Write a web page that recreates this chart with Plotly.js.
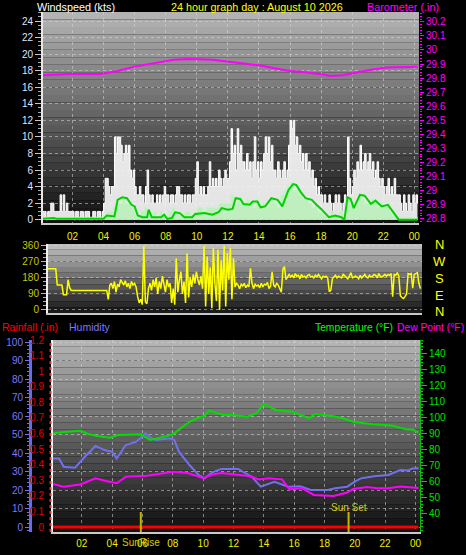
<!DOCTYPE html>
<html><head><meta charset="utf-8">
<script src="https://cdn.plot.ly/plotly-3.0.1.min.js"></script>
<style>html,body{margin:0;padding:0;background:#000;}#chart{width:466px;height:555px;}</style>
</head><body><div id="chart"></div>
<script>
// ---------- DATA ----------
const hourTicks = [2,4,6,8,10,12,14,16,18,20,22,24];
const hourLabels = ['02','04','06','08','10','12','14','16','18','20','22','00'];

// wind gust (kts), one value every 0.1 h starting at 00:00
const gust = [
 1,1,1,0,1,1,2,2,1,1,
 1,1,3,1,3,1,2,1,1,1,
 1,0,1,1,0,1,1,0,1,1,
 1,0,0,1,1,0,1,1,0,1,
 2,5,5,4,3,4,4,10,8,10,
 10,9,7,8,9,8,9,6,5,6,
 4,3,3,4,3,3,2,4,6,3,
 2,3,2,2,3,2,3,2,3,4,
 3,3,2,3,3,2,3,4,4,3,
 3,2,3,2,3,3,2,3,3,5,
 7,3,4,3,4,3,3,4,7,4,
 5,4,5,4,6,5,4,5,6,5,
 5,7,11,8,9,6,11,8,9,7,
 7,6,8,6,7,5,7,10,6,7,
 5,7,6,8,10,8,10,7,9,6,
 6,5,7,6,5,6,7,5,6,9,
 12,11,12,9,10,8,9,7,8,6,
 8,6,7,5,6,4,5,3,4,3,
 3,2,3,2,2,3,2,1,2,3,
 2,3,2,1,2,3,2,10,5,3,
 4,6,5,7,6,9,6,7,8,6,
 7,8,6,7,5,6,7,5,4,5,
 4,3,4,5,3,4,3,5,3,3,
 3,2,1,3,2,1,3,2,1,3,
 2,3,2
];
// wind speed (kts), one value every 0.2 h
const speed = [
 0.3,0.3,0.3,0.3,0.3,
 0.3,0.3,0.3,0.3,0.3,
 0.3,0.3,0.3,0.3,0.3,
 0.3,0.3,0.3,0.3,0.3,
 0.5,1,1,1.5,2,
 2,2.5,2,2,1.5,
 1,0.5,1,1.5,1,
 0.5,1,0.5,1,0.5,
 0.5,1,1.5,1,0.5,
 0.5,1,1,0.5,1,
 1.5,1.5,1,1.5,1.5,
 1.5,1.5,2,2,2,
 2,3,2,2.5,2,
 2,2.5,2,1.5,2.5,
 1.5,2,1.5,2,2.5,
 2,1.5,3,3.5,4,
 4.5,3.5,4,3,2.5,
 2.5,2,1.5,2,1,
 1,0.5,0.5,1,0.5,
 0.5,1,0.5,2.5,2,
 2,2.5,3,2.5,2,
 2,2.5,2,1.5,2,
 1.5,2,1,0.5,0.3,
 0.3,0.3,0.3,0.3,0.3,
 0.3,0.3
];
// average wind (kts)
const avgT = [0.1,0.8,1.0,4.0,4.2,4.7,4.9,5.2,5.5,5.8,6.0,6.2,6.5,6.8,6.9,7.1,7.7,7.9,8.1,8.4,8.6,8.9,9.2,9.7,9.9,10.5,11.0,11.4,11.6,12.0,12.3,12.5,12.8,13.0,13.4,13.6,13.9,14.1,14.4,14.8,15.2,15.5,15.9,16.2,16.4,16.7,17.0,17.4,17.7,18.0,18.5,18.9,19.3,19.5,19.7,19.9,20.1,20.5,20.8,21.2,21.5,21.9,22.3,22.8,23.0,24.2];
const avgV = [0.1,0.2,0.1,0.1,0.5,0.4,2.4,2.7,2.6,1.8,1.6,0.5,0.3,0.3,1.2,0.3,0.3,0.6,0.1,0.2,0.9,0.8,0.3,0.3,0.7,0.8,0.6,0.9,1.4,1.2,1.3,2.6,2.5,1.9,1.8,2.2,2.2,1.5,1.6,2.6,2.4,1.6,3.6,4.3,4.2,3.3,2.6,2.4,1.8,1.3,0.3,0.5,0.3,0.0,2.7,2.5,1.4,3.0,2.9,1.9,2.3,1.6,1.8,0.4,0.0,0.0];
// barometer (inHg)
const baroT = [0.1,1.7,3.8,4.9,5.9,7.5,8.5,9.5,11.0,12.2,13.0,14.1,15.0,16.0,16.7,17.9,18.6,19.4,20.5,21.2,22.2,23.1,24.2];
const baroV = [29.82,29.83,29.83,29.85,29.88,29.91,29.93,29.935,29.93,29.915,29.905,29.89,29.87,29.85,29.845,29.83,29.815,29.82,29.845,29.86,29.875,29.875,29.88];
const baroTicks = [28.8,28.9,29,29.1,29.2,29.3,29.4,29.5,29.6,29.7,29.8,29.9,30,30.1,30.2];
const baroLabels = ['28.8','28.9','29','29.1','29.2','29.3','29.4','29.5','29.6','29.7','29.8','29.9','30','30.1','30.2'];
// wind direction (deg), one value every 0.1 h
const dir = [
 232,232,232,232,232,232,232,140,140,140,
 140,85,85,85,170,125,110,110,110,110,
 110,110,110,110,110,110,110,110,110,110,
 110,110,110,110,110,110,110,110,110,110,
 60,140,150,120,160,100,145,130,170,150,
 140,165,130,150,120,160,140,150,130,75,
 40,60,30,360,45,35,120,150,110,170,
 130,180,90,160,120,190,140,100,170,130,
 150,40,120,30,290,100,170,215,90,160,
 40,318,70,185,130,200,150,215,170,140,
 190,120,360,20,300,90,240,10,350,150,
 50,340,0,280,110,360,20,320,170,350,
 60,290,130,150,140,120,145,135,150,125,
 140,130,234,150,120,145,135,140,125,150,
 130,145,140,155,120,135,215,140,130,150,
 140,120,100,230,244,170,190,200,185,195,
 180,205,190,195,175,200,185,190,180,195,
 200,185,190,180,195,185,200,190,175,190,
 185,190,180,103,110,175,185,195,180,190,
 185,180,200,190,185,175,190,210,180,185,
 190,185,175,195,180,190,200,185,180,195,
 185,190,200,195,180,205,190,185,195,200,
 190,200,195,205,75,200,195,210,190,80,
 70,65,75,90,205,200,205,122,200,205,
 210,150,120
];
const dirTicks = [0,90,180,270,360];
const compass = ['N','W','S','E','N'];
// temperature (F)
const tempT = [0.1,0.8,1.9,2.5,3.0,3.85,4.4,5.5,5.9,6.5,7.0,7.6,8.0,8.5,9.1,9.6,10.1,10.4,10.8,11.3,12.0,12.9,13.5,14.0,14.2,14.8,15.9,16.5,17.0,17.35,17.8,18.5,19.2,19.9,20.5,21.2,22.0,22.5,23.0,23.4,23.8,24.2];
const tempV = [90.1,91.0,91.7,89.5,88.4,87.4,89.0,89.1,89.5,86,87,88.5,89.5,93,97.3,99.5,101,104.2,103,101.5,101.5,100.4,102.5,108.3,107.5,104.6,103.5,101.5,99.4,102.1,101.8,100.9,99.5,97.3,96.5,95.7,95.3,94.8,93.5,92.6,92.5,90.7];
// humidity (%)
const humT = [0.1,0.5,0.8,1.55,2.2,2.9,3.5,4.0,4.3,4.9,5.6,6.2,6.5,6.9,7.8,8.1,8.4,9.1,9.7,10.1,10.6,11.2,12.3,13.2,13.8,14.3,14.7,15.6,16.4,17.1,18.2,18.7,19.5,20.0,20.4,21.3,22.2,23.0,23.5,23.8,24.2];
const humV = [37,37,32.6,32,38,43.8,41.6,40.7,37,44.3,46.1,50.6,48.5,47,48,47,40.7,33.5,28.1,26.3,29.5,31.4,31.4,27.2,21.8,23.5,24.5,21.8,22,20,20,21,21.8,24.5,26.3,27.5,28.1,30.8,30.5,31.6,31.8];
// dew point (F)
const dewT = [0.1,0.8,1.9,2.9,3.6,4.3,4.9,6.3,8.0,9.0,10.0,10.6,11.2,13.0,13.7,14.3,15.2,15.7,16.5,17.3,18.6,19.5,19.9,20.8,21.5,22.2,23.0,23.8,24.2];
const dewV = [58.6,57,58.3,62.2,60.5,59.1,63.2,63.8,66.3,65.5,62.2,64.5,65.5,63.6,61.5,62.2,61.5,55.3,56,51.8,51.2,53.3,55.5,56.7,56,56,57,56.5,56.2];
// rainfall (in)
const rainT = [0.1,24.2];
const rainV = [0,0];
const rainTicks = [0,0.1,0.2,0.3,0.4,0.5,0.6,0.7,0.8,0.9,1,1.1,1.2];
const rainLabels = ['0','0.1','0.2','0.3','0.4','0.5','0.6','0.7','0.8','0.9','1','1.1','1.2'];
const tempTicks = [40,50,60,70,80,90,100,110,120,130,140];
const sunrise = 5.89, sunset = 19.59;

// ---------- LAYOUT HELPERS ----------
const W = 466, H = 555;
const fx = px => px / W;
const fy = py => 1 - py / H;
const gustT = gust.map((_, i) => i * 0.1);
const dirT = dir.map((_, i) => i * 0.1);
const speedT = speed.map((_, i) => i * 0.2);
const FONT = 'Liberation Sans, Arial, sans-serif';

const shapes = [];
function stripes(x0, x1, y0, y1, top, bot, n) {
  for (let i = 0; i < n; i++) {
    const ya = y0 + (y1 - y0) * i / n, yb = y0 + (y1 - y0) * (i + 1) / n;
    const g = Math.round(top + (bot - top) * (i + 0.5) / n);
    shapes.push({type:'rect', xref:'paper', yref:'paper', x0:fx(x0), x1:fx(x1), y0:fy(yb), y1:fy(ya),
      fillcolor:`rgb(${g},${g},${g})`, line:{width:0}, layer:'below'});
  }
}
stripes(43, 419, 12, 223, 182, 14, 28);
stripes(48, 422, 244, 313, 195, 20, 12);
stripes(53, 420, 340, 532, 182, 14, 28);
// red dotted rain axis
shapes.push({type:'line', xref:'paper', yref:'paper', x0:fx(50.5), x1:fx(50.5), y0:fy(532), y1:fy(340), line:{color:'#ff2020', width:2, dash:'dot'}});
// sunrise / sunset markers
[sunrise, sunset].forEach(t => shapes.push({type:'line', xref:'x3', yref:'paper', x0:t, x1:t, y0:fy(532), y1:fy(512), line:{color:'#c8b400', width:2}}));

const grid = {showgrid:true, gridcolor:'rgba(215,215,215,0.55)', griddash:'dot', gridwidth:1};
const hx = {range:[0.1, 24.3], tickvals:hourTicks, ticktext:hourLabels, zeroline:false, fixedrange:true};

const layout = {
  width: W, height: H, margin:{l:0, r:0, t:0, b:0},
  paper_bgcolor:'#000', plot_bgcolor:'rgba(0,0,0,0)', showlegend:false,
  font:{family:FONT, size:10},
  xaxis: Object.assign({}, hx, grid, {domain:[fx(43), fx(419)], anchor:'y',
    tickfont:{color:'#f0f000', size:10, family:FONT}, ticks:'outside', ticklen:3, tickcolor:'rgba(0,0,0,0)',
    showline:true, linecolor:'#c8c8c8', linewidth:2}),
  yaxis: Object.assign({}, grid, {domain:[fy(223), fy(12)], anchor:'x', range:[-0.4, 25.1], tick0:0, dtick:2, zeroline:false,
    tickfont:{color:'#dfe6ff', size:10, family:FONT}, ticks:'outside', ticklen:6, tickcolor:'#c8c8c8',
    minor:{dtick:0.5, ticks:'outside', ticklen:3, tickcolor:'#a8a8a8'},
    showline:true, linecolor:'#e8e8e8', linewidth:2}),
  yaxis2: {overlaying:'y', side:'right', anchor:'x', range:[28.77, 30.27], tickvals:baroTicks, ticktext:baroLabels,
    showgrid:false, zeroline:false, tickfont:{color:'#ff00ff', size:10, family:FONT},
    ticks:'outside', ticklen:4, tickcolor:'#ff00ff', minor:{dtick:0.02, ticks:'outside', ticklen:2, tickcolor:'#ff00ff'}},
  xaxis2: Object.assign({}, hx, {domain:[fx(48), fx(422)], anchor:'y3', showticklabels:false, showgrid:false,
    showline:true, linecolor:'#c8c8c8', linewidth:2}),
  yaxis3: Object.assign({}, grid, {domain:[fy(313), fy(244)], anchor:'x2', range:[-17, 371], tickvals:dirTicks, zeroline:false,
    tickfont:{color:'#c8c800', size:10, family:FONT}, ticks:'outside', ticklen:5, tickcolor:'#c8c800',
    minor:{dtick:22.5, ticks:'outside', ticklen:3, tickcolor:'#c8c800'},
    showline:true, linecolor:'#f0f0f0', linewidth:2}),
  xaxis3: Object.assign({}, hx, grid, {domain:[fx(53), fx(420)], anchor:'y4',
    tickfont:{color:'#f0f000', size:10, family:FONT}, ticks:'outside', ticklen:1, tickcolor:'rgba(0,0,0,0)',
    showline:true, linecolor:'#c8c8c8', linewidth:2}),
  yaxis4: {domain:[fy(532), fy(340)], anchor:'x3', range:[-0.032, 1.2], tickvals:rainTicks, ticktext:rainLabels,
    showgrid:false, zeroline:false, tickfont:{color:'#e00000', size:10, family:FONT},
    ticks:'outside', ticklen:5, tickcolor:'rgba(0,0,0,0)', showline:true, linecolor:'#f0f0f0', linewidth:2},
  yaxis5: Object.assign({}, grid, {overlaying:'y4', anchor:'free', position:fx(30), side:'left', range:[-2.7, 101.1],
    tick0:0, dtick:10, zeroline:false, tickfont:{color:'#7a7aff', size:10, family:FONT},
    ticks:'outside', ticklen:4, tickcolor:'#7070f0', minor:{dtick:2, ticks:'outside', ticklen:2, tickcolor:'#7070f0'},
    showline:true, linecolor:'#6a6af0', linewidth:3}),
  yaxis6: {overlaying:'y4', side:'right', anchor:'x3', range:[28.8, 148.1], tickvals:tempTicks,
    showgrid:false, zeroline:false, tickfont:{color:'#00e000', size:10, family:FONT},
    ticks:'outside', ticklen:6, tickcolor:'#00d000', minor:{dtick:2, ticks:'outside', ticklen:2, tickcolor:'#00d000'},
    showline:true, linecolor:'#00c000', linewidth:1},
  shapes: shapes,
  annotations: []
};

function txt(text, px, py, color, anchor, size) {
  layout.annotations.push({text:text, xref:'paper', yref:'paper', x:fx(px), y:fy(py), xanchor:anchor||'center', yanchor:'middle',
    showarrow:false, font:{color:color, size:size||11, family:FONT}});
}
txt('Windspeed (kts)', 35, 7, '#ffffff', 'left', 10.8);
txt('24 hour graph day : August 10 2026', 257, 7, '#ffff00', 'center', 10.8);
txt('Barometer (.in)', 441, 7, '#ff00ff', 'right', 10.8);
const compY = [245, 261, 278, 295, 311];
compass.forEach((c, i) => txt(c, 439, compY[i], '#ffff00', 'center', 13));
txt('Rainfall (.in)', 0, 327, '#ff0000', 'left', 10.5);
txt('Humidity', 67, 327, '#7a7aff', 'left', 10.5);
txt('Temperature (°F)', 313, 327, '#00ff00', 'left', 10.3);
txt('Dew Point (°F)', 395, 327, '#ff00ff', 'left', 10.3);
layout.annotations.push({text:'Sun Set', xref:'x3', yref:'paper', x:sunset, y:fy(507), xanchor:'center', yanchor:'middle', showarrow:false, font:{color:'#d8c800', size:10, family:FONT}});
layout.annotations.push({text:'SunRise', xref:'x3', yref:'paper', x:sunrise, y:fy(542), xanchor:'center', yanchor:'middle', showarrow:false, font:{color:'#d8c800', size:10, family:FONT}});

const traces = [
  {x:gustT, y:gust, xaxis:'x', yaxis:'y', mode:'lines', fill:'tozeroy', fillcolor:'rgba(246,246,246,0.92)', line:{color:'#ffffff', width:1, shape:'hv'}},
  {x:speedT, y:speed, xaxis:'x', yaxis:'y', mode:'lines', fill:'tozeroy', fillcolor:'rgba(185,240,185,0.88)', line:{color:'#c8f5c8', width:1, shape:'hv'}},
  {x:avgT, y:avgV, xaxis:'x', yaxis:'y', mode:'lines', line:{color:'#00d000', width:2}},
  {x:baroT, y:baroV, xaxis:'x', yaxis:'y2', mode:'lines', line:{color:'#ff00ff', width:2}},
  {x:dirT, y:dir, xaxis:'x2', yaxis:'y3', mode:'lines', line:{color:'#ffff00', width:1.5}},
  {x:rainT, y:rainV, xaxis:'x3', yaxis:'y4', mode:'lines', line:{color:'#ff0000', width:3}},
  {x:humT, y:humV, xaxis:'x3', yaxis:'y5', mode:'lines', line:{color:'#7070f0', width:2}},
  {x:dewT, y:dewV, xaxis:'x3', yaxis:'y6', mode:'lines', line:{color:'#ff00ff', width:2}},
  {x:tempT, y:tempV, xaxis:'x3', yaxis:'y6', mode:'lines', line:{color:'#00e000', width:2}}
];
traces.forEach(t => t.hoverinfo = 'skip');

Plotly.newPlot('chart', traces, layout, {staticPlot:true, displayModeBar:false});
</script></body></html>
